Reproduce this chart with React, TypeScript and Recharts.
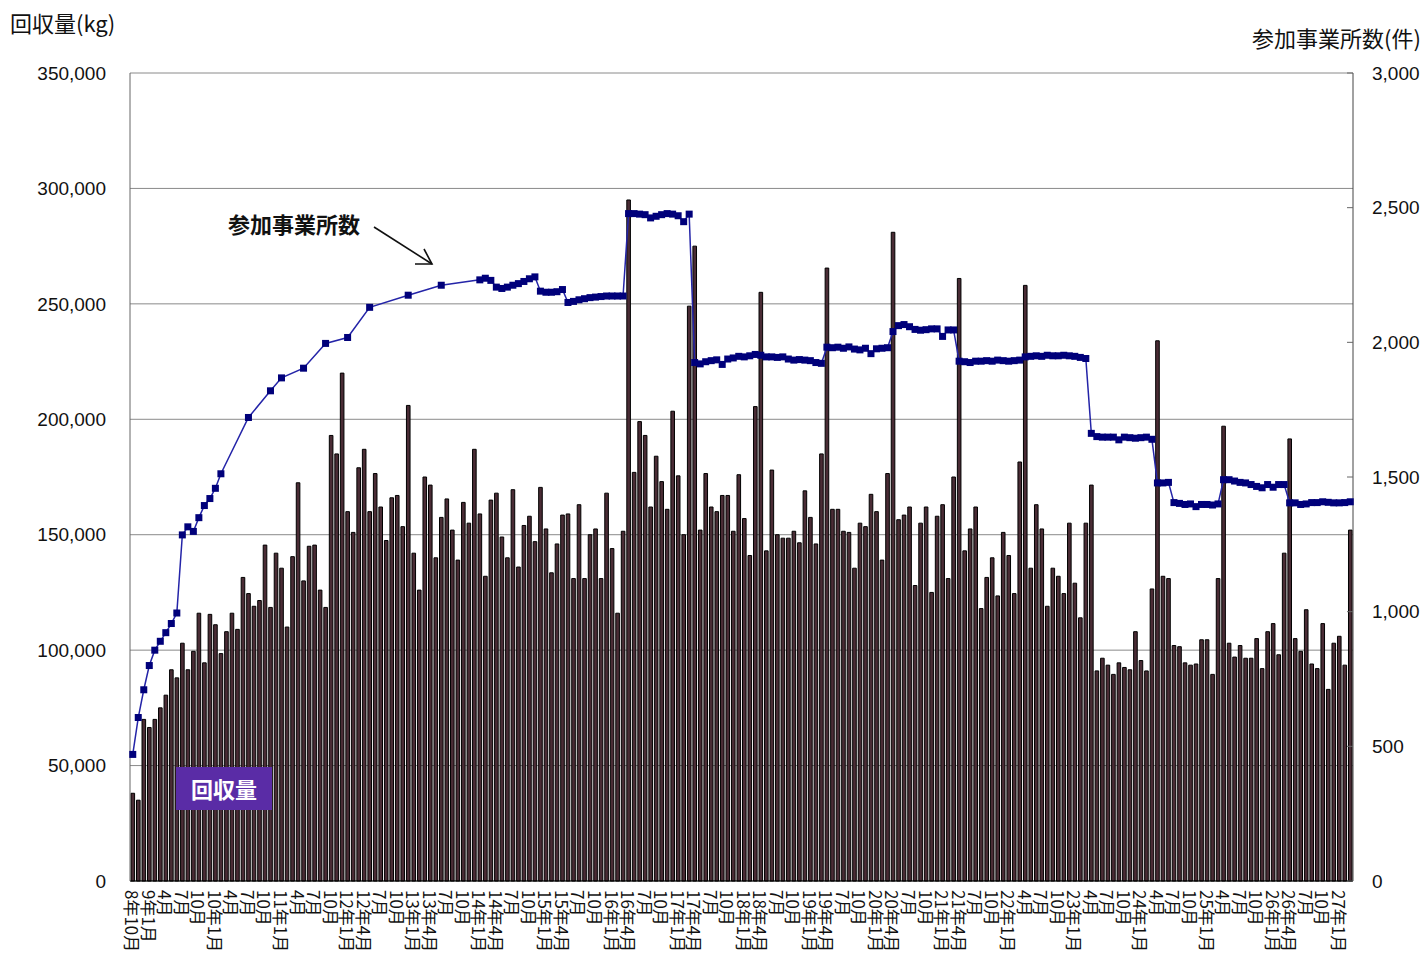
import React from "react"
import { ComposedChart, Bar, Line, XAxis, YAxis, CartesianGrid } from "recharts"

// x-axis labels, one every 3 months from H8.10 (index 0) to H27.1 (index 219)
const TICK_LABELS = [
  "8年10月", "9年1月", "4月", "7月", "10月",
  "10年1月", "4月", "7月", "10月",
  "11年1月", "4月", "7月", "10月",
  "12年1月", "12年4月", "7月", "10月",
  "13年1月", "13年4月", "7月", "10月",
  "14年1月", "14年4月", "7月", "10月",
  "15年1月", "15年4月", "7月", "10月",
  "16年1月", "16年4月", "7月", "10月",
  "17年1月", "17年4月", "7月", "10月",
  "18年1月", "18年4月", "7月", "10月",
  "19年1月", "19年4月", "7月", "10月",
  "20年1月", "20年4月", "7月", "10月",
  "21年1月", "21年4月", "7月", "10月",
  "22年1月", "4月", "7月", "10月",
  "23年1月", "4月", "7月", "10月",
  "24年1月", "4月", "7月", "10月",
  "25年1月", "4月", "7月", "10月",
  "26年1月", "26年4月", "7月", "10月",
  "27年1月",
]

// 回収量 (kg), monthly H8.10 - H27.3
const RECOVERY_KG = [
  38000, 35000, 70000, 66500, 70000, 75000, 80500, 91500, 88000, 103000,
  91500, 99500, 116000, 94500, 115500, 111000, 98500, 108000, 116000, 109000,
  131500, 124500, 119000, 121500, 145500, 118500, 142000, 135500, 110000, 140500,
  172500, 130000, 145000, 145500, 126000, 118500, 193000, 185000, 220000, 160000,
  151000, 179000, 187000, 160000, 176500, 162000, 147500, 166000, 167000, 153500,
  206000, 142000, 126000, 175000, 171500, 140000, 157500, 165500, 152000, 139000,
  164000, 155000, 187000, 159000, 132000, 165000, 168000, 149000, 140000, 169500,
  136000, 154000, 158000, 147000, 170500, 152500, 133500, 146000, 158500, 159000,
  131000, 163000, 131000, 150000, 152500, 131000, 168000, 144000, 116000, 151500,
  295000, 177000, 199000, 193000, 162000, 184000, 173000, 161000, 203500, 175500,
  150000, 249000, 275000, 152000, 176500, 162000, 160000, 167000, 167000, 151500,
  176000, 157000, 141000, 205500, 255000, 143000, 178000, 150000, 148500, 148500,
  151500, 146500, 169000, 157500, 146000, 185000, 265500, 161000, 161000, 151500,
  151000, 135500, 155000, 153500, 167500, 160000, 139000, 176500, 281000, 156500,
  158500, 162000, 128000, 155000, 162000, 125000, 158000, 163000, 131000, 175000,
  261000, 143000, 152500, 162000, 118000, 131500, 140000, 123500, 151000, 141000,
  124500, 181500, 258000, 135500, 163000, 152500, 119000, 135500, 132000, 124500,
  155000, 129000, 114000, 155000, 171500, 91000, 96500, 93500, 89500, 94500,
  92500, 91500, 108000, 95500, 91000, 126500, 234000, 132000, 131000, 102000,
  101500, 94500, 93500, 94000, 104500, 104500, 89500, 131000, 197000, 103000,
  97000, 102000, 96500, 96500, 105000, 92000, 108000, 111500, 98000, 142000,
  191500, 105000, 99500, 117500, 94000, 92000, 111500, 83000, 103000, 106000,
  93500, 152000,
]

// 参加事業所数 (件); null = no survey that month
const SITES = [
  470, 607, 710, 800, 857, 890, 922, 956, 995, 1285,
  1315, 1298, 1349, 1394, 1420, 1458, 1512, null, null, null,
  null, 1721, null, null, null, 1820, null, 1868, null, null,
  null, 1904, null, null, null, 1996, null, null, null, 2018,
  null, null, null, 2130, null, null, null, null, null, null,
  2175, null, null, null, null, null, 2212, null, null, null,
  null, null, null, 2232, 2238, 2230, 2205, 2200, 2205, 2212,
  2218, 2226, 2236, 2243, 2190, 2186, 2186, 2188, 2196, 2148,
  2152, 2158, 2162, 2166, 2168, 2170, 2172, 2172, 2172, 2172,
  2478, 2478, 2476, 2474, 2462, 2468, 2474, 2478, 2476, 2470,
  2448, 2476, 1925, 1920, 1928, 1932, 1935, 1918, 1938, 1942,
  1948, 1946, 1950, 1955, 1952, 1946, 1946, 1944, 1946, 1938,
  1934, 1936, 1934, 1932, 1925, 1922, 1982, 1980, 1982, 1978,
  1983, 1975, 1972, 1978, 1958, 1976, 1978, 1980, 2040, 2062,
  2066, 2058, 2048, 2045, 2047, 2050, 2050, 2022, 2046, 2046,
  1930, 1928, 1925, 1930, 1930, 1932, 1930, 1934, 1932, 1930,
  1932, 1934, 1946, 1948, 1950, 1948, 1952, 1950, 1950, 1952,
  1950, 1948, 1944, 1940, 1662, 1650, 1648, 1648, 1648, 1638,
  1648, 1646, 1644, 1646, 1648, 1640, 1478, 1478, 1480, 1405,
  1402, 1398, 1400, 1390, 1398, 1398, 1396, 1400, 1490, 1490,
  1485, 1480, 1478, 1472, 1465, 1460, 1472, 1462, 1472, 1472,
  1404, 1404, 1398, 1400, 1405, 1405, 1408, 1406, 1404, 1404,
  1405, 1408,
]

const KG_TICKS = [0, 50000, 100000, 150000, 200000, 250000, 300000, 350000]
const SITE_TICKS = [0, 500, 1000, 1500, 2000, 2500, 3000]

const data = RECOVERY_KG.map((kg, i) => ({ idx: i, kg, sites: SITES[i] }))

const JP = "'Noto Sans CJK JP', sans-serif"
const NUM = "'Liberation Sans', Arial, sans-serif"
const fmt = (v: number) => v.toLocaleString("en-US")

function MonthTick({ x, y, payload }: any) {
  const i = Number(payload.value)
  const label = i % 3 === 0 ? TICK_LABELS[i / 3] : undefined
  if (!label) return <g />
  return (
    <text
      x={x}
      y={y}
      transform={`rotate(90 ${x} ${y})`}
      textAnchor="start"
      dominantBaseline="central"
      fontSize={17}
      fontFamily={JP}
      fill="#111"
    >
      {label}
    </text>
  )
}

function SquareDot({ cx, cy, value }: any) {
  if (cx == null || cy == null || value == null) return <g />
  return <rect x={cx - 3.5} y={cy - 3.5} width={7} height={7} fill="#00007a" />
}

export default function App() {
  return (
    <div style={{ position: "absolute", left: 0, top: 0, width: 1426, height: 965, background: "#fff" }}>
      <ComposedChart
        width={1426}
        height={965}
        data={data}
        margin={{ top: 73, right: 0, bottom: 0, left: 0 }}
        barGap={0}
      >
        <CartesianGrid yAxisId="kg" vertical={false} stroke="#8a8a8a" strokeWidth={1} />
        <XAxis
          dataKey="idx"
          type="category"
          interval={0}
          height={84}
          tick={<MonthTick />}
          tickLine={false}
          tickSize={0}
          tickMargin={9}
          axisLine={{ stroke: "#000" }}
        />
        <YAxis
          yAxisId="kg"
          orientation="left"
          width={130}
          domain={[0, 350000]}
          ticks={KG_TICKS}
          tickFormatter={fmt}
          tickLine={false}
          tickSize={0}
          tickMargin={24}
          axisLine={{ stroke: "#666" }}
          tick={{ fontSize: 19, fill: "#111", fontFamily: NUM }}
        />
        <YAxis
          yAxisId="sites"
          orientation="right"
          width={73}
          domain={[0, 3000]}
          ticks={SITE_TICKS}
          tickFormatter={fmt}
          tickSize={-6}
          tickMargin={25}
          tickLine={{ stroke: "#666" }}
          axisLine={{ stroke: "#444" }}
          tick={{ fontSize: 19, fill: "#111", fontFamily: NUM }}
        />
        <Bar
          yAxisId="kg"
          dataKey="kg"
          fill="#4a2c35"
          stroke="#000"
          strokeWidth={1}
          barSize={3.6}
          isAnimationActive={false}
        />
        <Line
          yAxisId="sites"
          dataKey="sites"
          type="linear"
          stroke="#2424a8"
          strokeWidth={1.5}
          connectNulls
          dot={<SquareDot />}
          activeDot={false}
          isAnimationActive={false}
        />
      </ComposedChart>

      {/* axis titles */}
      <div style={{ position: "absolute", left: 10, top: 8, fontFamily: JP, fontSize: 22, lineHeight: "28px", color: "#111" }}>
        回収量(kg)
      </div>
      <div style={{ position: "absolute", left: 1252, top: 23, fontFamily: JP, fontSize: 22, lineHeight: "28px", color: "#111", whiteSpace: "nowrap" }}>
        参加事業所数(件)
      </div>

      {/* series annotation with arrow */}
      <div style={{ position: "absolute", left: 228, top: 209, fontFamily: JP, fontSize: 22, fontWeight: 700, lineHeight: "28px", color: "#111" }}>
        参加事業所数
      </div>
      <svg style={{ position: "absolute", left: 0, top: 0 }} width={1426} height={965} pointerEvents="none">
        <line x1={374} y1={227} x2={432} y2={264} stroke="#111" strokeWidth={1.6} />
        <polyline points="415,264 432,264 424,249" fill="none" stroke="#111" strokeWidth={1.6} />
      </svg>

      {/* bar series legend */}
      <div
        style={{
          position: "absolute",
          left: 176,
          top: 767,
          width: 96,
          height: 43,
          background: "#5a2ca6",
          color: "#fff",
          fontFamily: JP,
          fontWeight: 700,
          fontSize: 22,
          lineHeight: "43px",
          textAlign: "center",
        }}
      >
        回収量
      </div>
    </div>
  )
}
